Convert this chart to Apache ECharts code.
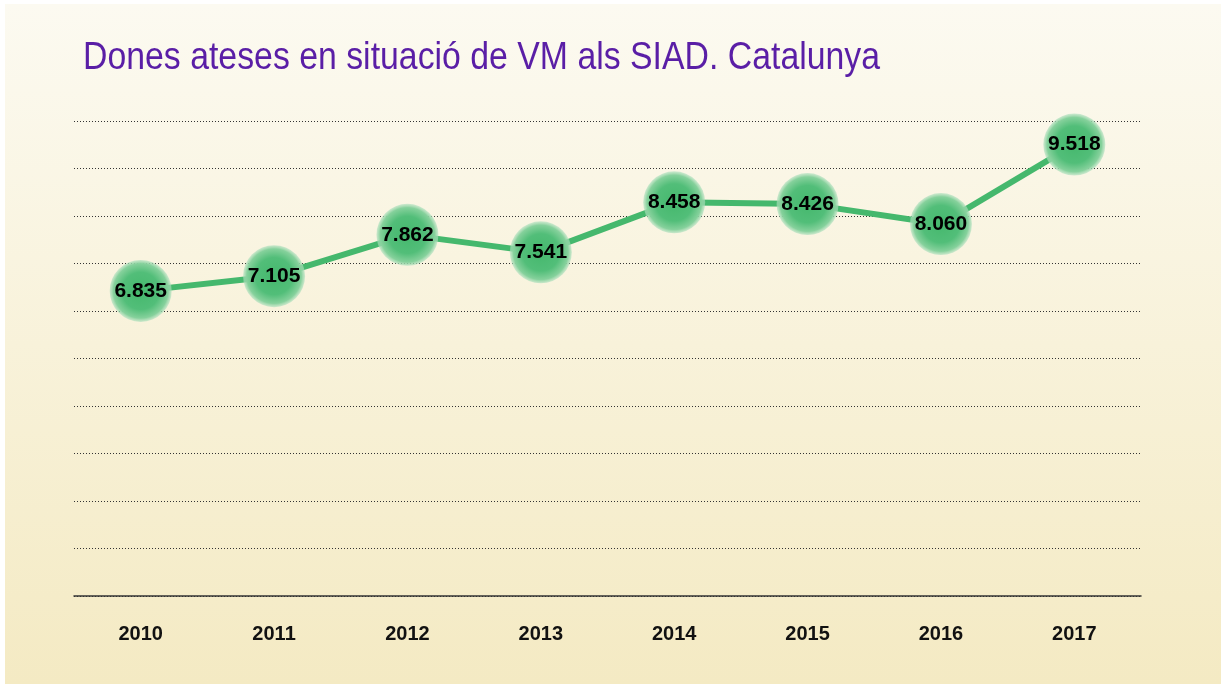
<!DOCTYPE html>
<html>
<head>
<meta charset="utf-8">
<script src="https://cdn.jsdelivr.net/npm/echarts@6/dist/echarts.min.js"></script>
<style>
  html, body { margin: 0; padding: 0; background: #ffffff; }
  #main { width: 1225px; height: 684px; }
</style>
</head>
<body>
<div id="main"></div>
<script>
// dades
var anys = ['2010', '2011', '2012', '2013', '2014', '2015', '2016', '2017'];
var dones = [6835, 7105, 7862, 7541, 8458, 8426, 8060, 9518];
// línies de graella decoratives (10 intervals iguals)
var graella = [0, 10];
var titol = 'Dones ateses en situació de VM als SIAD. Catalunya';

var chart = echarts.init(document.getElementById('main'), null, { renderer: 'canvas' });

function fmt(v) {
    // separador de milers amb punt
    return String(v).replace(/\B(?=(\d{3})+(?!\d))/g, '.');
}

var option = {
    animation: false,
    graphic: [
        {
            type: 'rect',
            z: -10,
            silent: true,
            shape: { x: 5, y: 4, width: 1216, height: 680 },
            style: {
                fill: new echarts.graphic.LinearGradient(0, 0, 0, 1, [
                    { offset: 0, color: '#fcfaf1' },
                    { offset: 1, color: '#f4eac3' }
                ])
            }
        },
        {
            // títol estret (condensat amb scaleX)
            type: 'text',
            x: 83,
            y: 59,
            scaleX: 0.89,
            silent: true,
            style: {
                text: titol,
                font: 'normal 38px "Liberation Sans", Arial, sans-serif',
                fill: '#5a1ea6',
                verticalAlign: 'middle',
                align: 'left'
            }
        }
    ],
    grid: { left: 74, right: 84, top: 121, bottom: 88 },
    xAxis: {
        type: 'category',
        data: anys,
        axisLine: { lineStyle: { color: '#333333', width: 1.5 } },
        axisTick: { show: false },
        axisLabel: {
            margin: 28,
            color: '#111111',
            fontFamily: 'Liberation Sans',
            fontWeight: 'bold',
            fontSize: 20
        }
    },
    yAxis: [
        {
            type: 'value',
            min: graella[0],
            max: graella[1],
            interval: 1,
            axisLine: { show: false },
            axisTick: { show: false },
            axisLabel: { show: false },
            splitLine: { lineStyle: { color: '#333333', type: [1, 2], width: 1 } }
        },
        {
            type: 'value',
            min: 1240,
            max: 9950,
            show: false,
            splitLine: { show: false }
        }
    ],
    series: [
        {
            type: 'line',
            yAxisIndex: 1,
            data: dones,
            symbol: 'circle',
            symbolSize: 62,
            lineStyle: { color: '#45b86d', width: 6 },
            itemStyle: {
                color: new echarts.graphic.RadialGradient(0.5, 0.5, 0.5, [
                    { offset: 0, color: '#45b86d' },
                    { offset: 0.6, color: '#52be79' },
                    { offset: 0.88, color: '#86d19c' },
                    { offset: 1, color: 'rgba(175,224,190,0.6)' }
                ])
            },
            z: 3,
            label: {
                show: true,
                position: 'inside',
                formatter: function (p) { return fmt(p.value); },
                color: '#000000',
                fontFamily: 'Liberation Sans',
                fontWeight: 'bold',
                fontSize: 21
            }
        }
    ]
};

chart.setOption(option);
window.addEventListener('resize', chart.resize);
</script>
</body>
</html>
